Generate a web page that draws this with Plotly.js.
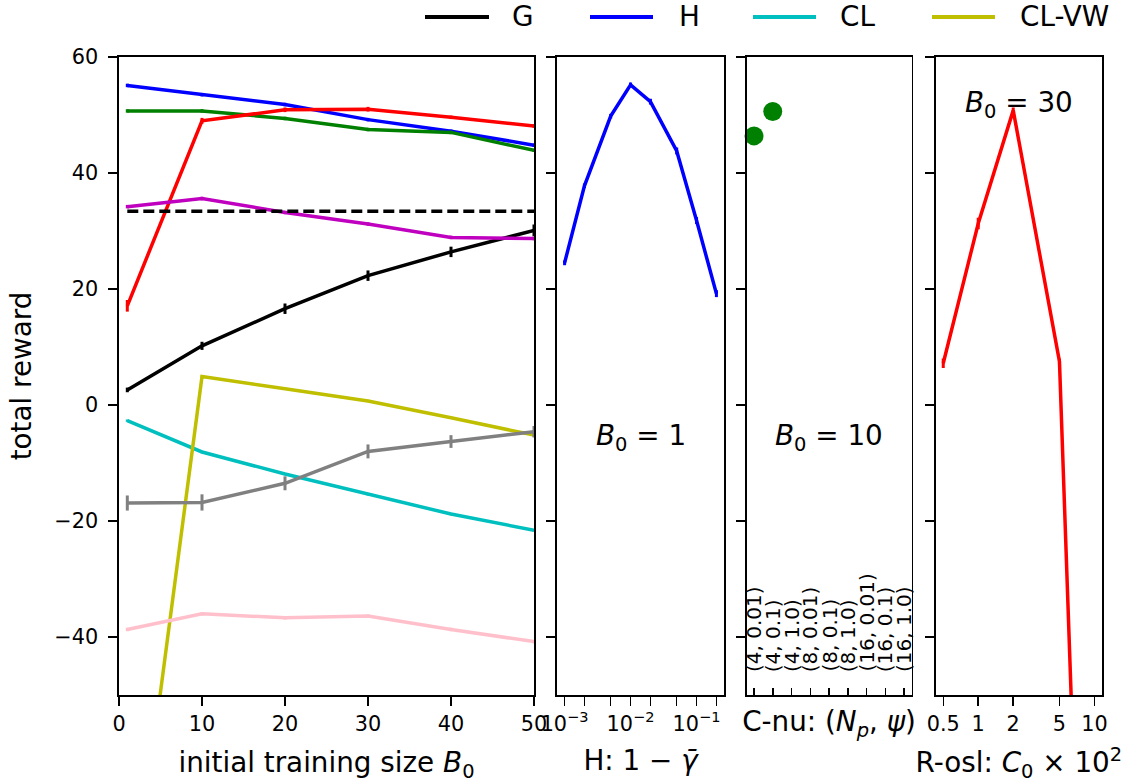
<!DOCTYPE html>
<html>
<head>
<meta charset="utf-8">
<script src="https://cdn.plot.ly/plotly-3.0.1.min.js"></script>
<style>html,body{margin:0;padding:0;background:#fff;}#chart{width:1127px;height:784px;}</style>
</head>
<body>
<div id="chart"></div>
<script>
// ---------- data ----------
const B0 = [1, 10, 20, 30, 40, 50];
const G = [2.6, 10.2, 16.6, 22.3, 26.4, 30.1];
const G_err = [0.4, 0.7, 0.9, 0.9, 0.9, 1.0];
const H = [55.1, 53.5, 51.8, 49.2, 47.2, 44.8];
const H_err = [0.3, 0.3, 0.3, 0.3, 0.3, 0.3];
const CL = [-2.7, -8.1, -11.9, -15.4, -18.8, -21.6];
const CL_err = [0.2, 0.2, 0.2, 0.2, 0.2, 0.2];
const CLVW = [-93, 4.9, 2.8, 0.7, -2.2, -5.2];
const CLVW_err = [0.2, 0.2, 0.2, 0.2, 0.2, 0.2];
const Rosl = [17.1, 49.0, 50.9, 51.0, 49.6, 48.1];
const Rosl_err = [1.0, 0.5, 0.4, 0.4, 0.3, 0.3];
const Cnu = [50.7, 50.7, 49.4, 47.5, 47.0, 43.9];
const Cnu_err = [0.3, 0.3, 0.3, 0.3, 0.3, 0.3];
const Magenta = [34.2, 35.6, 33.2, 31.2, 28.9, 28.7];
const Magenta_err = [0.3, 0.3, 0.3, 0.3, 0.3, 0.3];
const Gray = [-16.9, -16.8, -13.5, -8.0, -6.3, -4.6];
const Gray_err = [1.3, 1.4, 1.2, 1.2, 1.1, 1.0];
const Pink = [-38.7, -36.0, -36.7, -36.4, -38.7, -40.8];
const Pink_err = [0.3, 0.3, 0.3, 0.3, 0.3, 0.3];
const baselineX = [1, 50];
const baselineY = [33.4, 33.4];

const gammaGap = [0.001, 0.002, 0.005, 0.01, 0.02, 0.05, 0.1, 0.2];
const H_gamma = [24.5, 37.8, 49.8, 55.2, 52.3, 43.8, 31.8, 19.2];
const H_gamma_err = [0.4, 0.4, 0.4, 0.4, 0.5, 0.6, 0.6, 0.6];
const gammaMajor = [0.001, 0.01, 0.1];
const gammaMajorText = ['10<sup>\u22123</sup>', '10<sup>\u22122</sup>', '10<sup>\u22121</sup>'];
const gammaMinor = [0.002, 0.005, 0.02, 0.05, 0.2];

const cnuCats = ['(4, 0.01)', '(4, 0.1)', '(4, 1.0)', '(8, 0.01)', '(8, 0.1)', '(8, 1.0)', '(16, 0.01)', '(16, 0.1)', '(16, 1.0)'];
const cnuVals = [46.4, 50.6, null, null, null, null, null, null, null];

const C0 = [0.5, 1, 2, 5, 10];
const R_C0 = [7.2, 31.3, 50.8, 7.5, -165];
const R_C0_err = [0.8, 1.0, 0.5, 0.5, 0.5];
const C0TickText = ['0.5', '1', '2', '5', '10'];

const yTicks = [-40, -20, 0, 20, 40, 60];
const legendNames = ['G', 'H', 'CL', 'CL-VW'];
const legendColors = ['#000000', '#0000ff', '#00bfbf', '#bfbf00'];

// ---------- geometry helpers ----------
const W = 1127, Ht = 784;
const M = {l: 119, r: 25, t: 57, b: 89};
const PW = W - M.l - M.r, PH = Ht - M.t - M.b;
const px = x => (x - M.l) / PW;
const py = y => (Ht - M.b - y) / PH;
const FONT = 'DejaVu Sans, sans-serif';
const TICK = 20.8, TITLE = 27.8;
const LW = 3.5;

function line(x, y, err, color, name, xa, ya, extra) {
  const t = {
    x: x, y: y, type: 'scatter', mode: 'lines', name: name,
    line: {color: color, width: LW}, showlegend: false,
    xaxis: xa || 'x', yaxis: ya || 'y'
  };
  if (err) t.error_y = {type: 'data', array: err, visible: true, color: color, thickness: 3, width: 0};
  return Object.assign(t, extra || {});
}

const traces = [
  line(B0, G, G_err, '#000000', 'G'),
  line(B0, H, H_err, '#0000ff', 'H'),
  line(B0, CL, CL_err, '#00bfbf', 'CL'),
  line(B0, CLVW, CLVW_err, '#bfbf00', 'CL-VW'),
  line(B0, Cnu, Cnu_err, '#008000', 'C-nu'),
  line(B0, Rosl, Rosl_err, '#ff0000', 'R-osl'),
  line(B0, Magenta, Magenta_err, '#bf00bf', 'magenta'),
  line(B0, Gray, Gray_err, '#808080', 'gray'),
  line(B0, Pink, Pink_err, '#ffc0cb', 'pink'),
  line(baselineX, baselineY, null, '#000000', 'baseline', 'x', 'y', {line: {color: '#000000', width: LW, dash: '11px,5px'}}),
  line(gammaGap, H_gamma, H_gamma_err, '#0000ff', 'H (B0=1)', 'x2', 'y2'),
  {x: cnuCats, y: cnuVals, type: 'scatter', mode: 'markers', name: 'C-nu (B0=10)', showlegend: false,
   marker: {color: '#008000', size: 19}, xaxis: 'x3', yaxis: 'y3', cliponaxis: false},
  line(C0, R_C0, R_C0_err, '#ff0000', 'R-osl (B0=30)', 'x4', 'y4')
];

const axCommon = {
  showline: true, mirror: true, linecolor: '#000', linewidth: 1.6,
  ticks: 'outside', ticklen: 9, tickwidth: 1.5, tickcolor: '#000',
  showgrid: false, zeroline: false,
  tickfont: {family: FONT, size: TICK, color: '#000'}
};
const yCommon = Object.assign({}, axCommon, {
  range: [-50, 60], tickmode: 'array', tickvals: yTicks, domain: [0, 1]
});

const layout = {
  width: W, height: Ht, margin: M,
  paper_bgcolor: '#fff', plot_bgcolor: '#fff',
  font: {family: FONT, color: '#000'},
  showlegend: false,
  xaxis: Object.assign({}, axCommon, {
    domain: [0, px(534)], range: [0, 50], tickmode: 'array', tickvals: [0, 10, 20, 30, 40, 50],
    title: {text: 'initial training size <i>B</i><sub>0</sub>', font: {family: FONT, size: TITLE}, standoff: 18}
  }),
  yaxis: Object.assign({}, yCommon, {
    anchor: 'x', ticklabelstandoff: 6,
    title: {text: 'total reward', font: {family: FONT, size: TITLE}, standoff: 14}
  }),
  xaxis2: Object.assign({}, axCommon, {
    domain: [px(557), px(724)], type: 'log', range: [-3.115, -0.584], anchor: 'y2',
    tickmode: 'array', tickvals: gammaMajor, ticktext: gammaMajorText,
    minor: {tickmode: 'array', tickvals: gammaMinor, ticks: 'outside', ticklen: 9, tickwidth: 1.5, tickcolor: '#000', showgrid: false},
    title: {text: 'H: 1 \u2212 <i>\u03B3\u0304</i>', font: {family: FONT, size: TITLE}, standoff: 16}
  }),
  yaxis2: Object.assign({}, yCommon, {anchor: 'x2', showticklabels: false}),
  xaxis3: Object.assign({}, axCommon, {
    domain: [px(746.5), px(911.5)], type: 'category', range: [-0.4, 8.4], anchor: 'y3',
    categoryorder: 'array', categoryarray: cnuCats,
    ticks: 'inside', ticklen: 7, showticklabels: false,
    title: {text: 'C-nu: (<i>N<sub>p</sub></i>, <i>\u03C8</i>)', font: {family: FONT, size: TITLE}, standoff: 16}
  }),
  yaxis3: Object.assign({}, yCommon, {anchor: 'x3', showticklabels: false}),
  xaxis4: Object.assign({}, axCommon, {
    domain: [px(935.7), 1], type: 'log', range: [-0.366, 1.065], anchor: 'y4',
    tickmode: 'array', tickvals: C0, ticktext: C0TickText,
    title: {text: 'R-osl: <i>C</i><sub>0</sub> \u00D7 10<sup>2</sup>', font: {family: FONT, size: TITLE}, standoff: 18}
  }),
  yaxis4: Object.assign({}, yCommon, {anchor: 'x4', showticklabels: false}),
  shapes: [],
  annotations: [
    {xref: 'x2 domain', yref: 'y2 domain', x: 0.5, y: py(437), text: '<i>B</i><sub>0</sub> = 1', showarrow: false,
     font: {family: FONT, size: TITLE}, xanchor: 'center', yanchor: 'middle'},
    {xref: 'x3 domain', yref: 'y3 domain', x: 0.5, y: py(437), text: '<i>B</i><sub>0</sub> = 10', showarrow: false,
     font: {family: FONT, size: TITLE}, xanchor: 'center', yanchor: 'middle'},
    {xref: 'x4 domain', yref: 'y4 domain', x: 0.5, y: py(104), text: '<i>B</i><sub>0</sub> = 30', showarrow: false,
     font: {family: FONT, size: TITLE}, xanchor: 'center', yanchor: 'middle'}
  ]
};

// rotated category labels drawn inside panel 3
cnuCats.forEach(c => {
  layout.annotations.push({
    xref: 'x3', yref: 'y3 domain', x: c, y: py(674), text: c, showarrow: false, textangle: -90,
    font: {family: FONT, size: 20, color: '#000'}, xanchor: 'center', yanchor: 'bottom'
  });
});

// legend row (top right)
const legLine = [[425, 489], [590, 653], [753, 816], [932, 995]];
const legText = [510, 677, 838, 1018];
legendNames.forEach((n, i) => {
  layout.shapes.push({type: 'line', xref: 'paper', yref: 'paper',
    x0: px(legLine[i][0]), x1: px(legLine[i][1]), y0: py(17), y1: py(17),
    line: {color: legendColors[i], width: 4}});
  layout.annotations.push({xref: 'paper', yref: 'paper', x: px(legText[i]), y: py(17), text: n,
    showarrow: false, xanchor: 'left', yanchor: 'middle', font: {family: FONT, size: TITLE, color: '#000'}});
});

Plotly.newPlot('chart', traces, layout, {staticPlot: true});
</script>
</body>
</html>
